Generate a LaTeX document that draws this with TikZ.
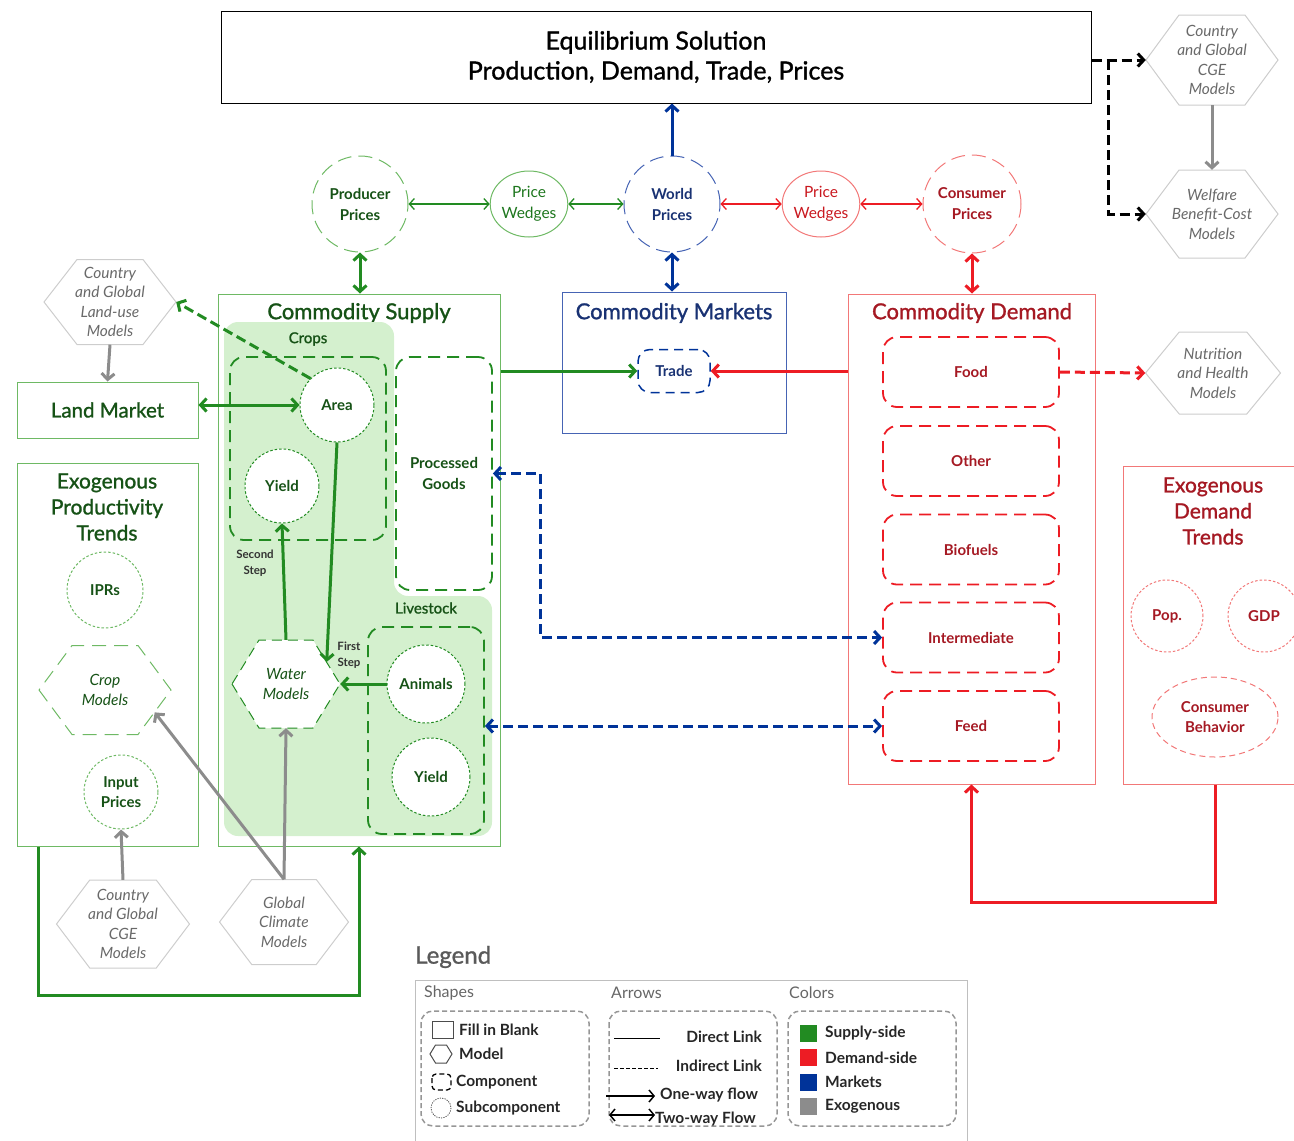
\documentclass[tikz,border=0pt]{standalone}
\usepackage{fontspec}
\setmainfont{Lato}
\newfontfamily\semifont[FakeBold=1.2]{Lato}
\usetikzlibrary{arrows.meta,calc,positioning,shapes.geometric}

\definecolor{supgreen}{RGB}{34,139,34}
\definecolor{supdark}{RGB}{22,82,22}
\definecolor{supline}{RGB}{110,185,100}
\definecolor{supfill}{RGB}{212,240,206}
\definecolor{demred}{RGB}{237,28,36}
\definecolor{demdark}{RGB}{165,25,35}
\definecolor{demline}{RGB}{242,120,120}
\definecolor{mktblue}{RGB}{0,51,153}
\definecolor{mktdark}{RGB}{25,50,115}
\definecolor{mktline}{RGB}{70,100,180}
\definecolor{exogray}{RGB}{140,140,140}
\definecolor{hexline}{RGB}{205,205,205}
\definecolor{hextext}{RGB}{105,105,105}
\definecolor{legline}{RGB}{150,150,150}

\tikzset{
  bigbox/.style={draw, rectangle, line width=1pt},
  title/.style={font=\semifont\fontsize{22}{25}\selectfont},
  comp/.style={draw, rectangle, rounded corners=14pt, line width=1.8pt, dash pattern=on 12pt off 7pt},
  complabel/.style={font=\bfseries\fontsize{15}{21}\selectfont},
  subcomp/.style={draw, circle, fill=white, line width=1pt, dash pattern=on 2.5pt off 2pt,
    font=\bfseries\fontsize{15}{20}\selectfont},
  pricecirc/.style={draw, circle, line width=1pt, dash pattern=on 14pt off 7pt,
    font=\bfseries\fontsize{15}{21}\selectfont},
  wedge/.style={draw, ellipse, line width=1pt, font=\fontsize{15.5}{21}\selectfont},
  hexlabel/.style={rectangle, font=\itshape\fontsize{15.5}{19.5}\selectfont},
  flow/.style={line width=3pt},
  link/.style={line width=3pt, dash pattern=on 10pt off 5pt},
  thinflow/.style={line width=1.3pt, >={Straight Barb[length=5pt,width=11pt]}},
  steplabel/.style={font=\bfseries\fontsize{11.5}{16}\selectfont, text=black!80},
  legtext/.style={anchor=west, font=\bfseries\fontsize{15.5}{16}\selectfont, text=black!85},
  leghead/.style={anchor=west, font=\fontsize{16}{16}\selectfont, text=black!60},
  legbox/.style={draw=legline, rounded corners=12pt, line width=1.5pt, dash pattern=on 5pt off 3pt}
}

% hexagon: name, centre, width, height, outline style, text colour, text
\newcommand{\hexmodel}[7]{%
  \draw[#5] #2 ++(-#3/2,0) -- ++(#3/4,#4/2) -- ++(#3/2,0) -- ++(#3/4,-#4/2)
    -- ++(-#3/4,-#4/2) -- ++(-#3/2,0) -- cycle;
  \node[hexlabel, text=#6, minimum width=#3pt, minimum height=#4pt] (#1) at #2 {#7};}

\begin{document}
\begin{tikzpicture}[x=1pt,y=-1pt, every node/.style={inner sep=0pt, align=center},
  >={Straight Barb[length=6pt,width=13pt]}]
\useasboundingbox (0,0) rectangle (1294,1141);

% top
\node[bigbox, minimum width=870pt, minimum height=92pt,
  font=\semifont\fontsize{25}{30}\selectfont] (eq) at (656,57)
  {Equilibrium Solution\\Production, Demand, Trade, Prices};

\node[pricecirc, draw=supline, text=supdark, minimum size=96pt] (prodp) at (360,204) {Producer\\Prices};
\node[wedge, draw=supline, text=supgreen!85!black, minimum width=76pt, minimum height=66pt] (wedgeg) at (529,204) {Price\\Wedges};
\node[pricecirc, draw=mktline, text=mktdark, minimum size=96pt] (world) at (672,204) {World\\Prices};
\node[wedge, draw=demline, text=demred!85!black, minimum width=76pt, minimum height=66pt] (wedger) at (821,204) {Price\\Wedges};
\node[pricecirc, draw=demline, text=demdark, minimum size=98pt] (consp) at (972,204) {Consumer\\Prices};

\hexmodel{cget}{(1212,60)}{132}{90}{hexline, line width=1pt}{hextext}{Country\\and Global\\CGE\\Models}
\hexmodel{welfare}{(1212,214)}{132}{88}{hexline, line width=1pt}{hextext}{Welfare\\Benefit-Cost\\Models}

% supply side
\node[bigbox, draw=supline, minimum width=282pt, minimum height=552pt] (supply) at (359,570) {};
\node[title, text=supdark] (suptitle) at (359,313) {Commodity Supply};
\fill[supfill, rounded corners=14pt] (224,322) -- (394,322) -- (394,596) -- (492,596)
  -- (492,836) -- (224,836) -- cycle;
\node[font=\semifont\fontsize{15}{18}\selectfont, text=supdark] (cropslbl) at (308,339) {Crops};
\node[font=\semifont\fontsize{15}{18}\selectfont, text=supdark] (livelbl) at (426,608) {Livestock};
\node[comp, draw=supgreen, minimum width=156pt, minimum height=183pt] (crops) at (308,448.5) {};
\node[comp, draw=supgreen, fill=white, complabel, text=supdark, minimum width=96pt, minimum height=233pt] (procg) at (444,473.5) {Processed\\Goods};
\node[comp, draw=supgreen, minimum width=116pt, minimum height=207pt] (livestock) at (426,730.5) {};
\node[subcomp, draw=supgreen, text=supdark, minimum size=74pt] (area) at (337,405) {Area};
\node[subcomp, draw=supgreen, text=supdark, minimum size=74pt] (cyield) at (282,486) {Yield};
\node[subcomp, draw=supgreen, text=supdark, minimum size=78pt] (animals) at (426,684) {Animals};
\node[subcomp, draw=supgreen, text=supdark, minimum size=78pt] (lyield) at (431,777) {Yield};
\hexmodel{water}{(286,684)}{108}{88}{supgreen, fill=white, line width=1pt, dash pattern=on 10pt off 6pt}{supdark}{Water\\Models}
\node[steplabel] (second) at (255,563) {Second\\Step};
\node[steplabel] (first) at (349,655) {First\\Step};

\draw[flow, supgreen, ->] (area.south) -- ($([xshift=-27pt]water.north east)!0.5!(water.east)$);
\draw[flow, supgreen, ->] (water.north) -- (cyield.south);
\draw[flow, supgreen, ->] (animals.west) -- (water.east);

% land
\hexmodel{landuse}{(110,302)}{132}{85}{hexline, line width=1pt}{hextext}{Country\\and Global\\Land-use\\Models}
\node[bigbox, draw=supline, minimum width=181pt, minimum height=56pt,
  font=\semifont\fontsize{20.5}{24}\selectfont, text=supdark] (landmkt) at (107.5,410) {Land Market};
\draw[flow, exogray, ->] (landuse.south) -- (landmkt.north);
\draw[flow, supgreen, <->] (area.west -| landmkt.east) -- (area.west);
\draw[link, supgreen, ->] (area.north west) -- (landuse.east);

% exogenous productivity
\node[bigbox, draw=supline, minimum width=181pt, minimum height=383pt] (prodtrend) at (107.5,654.5) {};
\node[title, text=supdark, font=\semifont\fontsize{21}{26}\selectfont] (prodtitle) at (107,507) {Exogenous\\Productivity\\Trends};
\node[subcomp, draw=supline, text=supdark, minimum size=76pt] (iprs) at (105,590) {IPRs};
\hexmodel{cropm}{(105,690)}{132}{89}{supline, line width=1pt, dash pattern=on 14pt off 8pt}{supdark}{Crop\\Models}
\node[subcomp, draw=supline, text=supdark, minimum size=74pt] (input) at (121,792) {Input\\Prices};

\hexmodel{cgeb}{(123,924)}{133}{88}{hexline, line width=1pt}{hextext}{Country\\and Global\\CGE\\Models}
\hexmodel{gcm}{(284,922)}{129}{85}{hexline, line width=1pt}{hextext}{Global\\Climate\\Models}
\draw[flow, exogray, ->] (cgeb.north) -- (input.south);
\draw[flow, exogray, ->] (gcm.north) -- (water.south);
\draw[flow, exogray, ->] (gcm.north) -- ($(cropm.east)!0.5!([xshift=-33pt]cropm.south east)$);

\coordinate (loopS) at (38,995);
\draw[flow, supgreen, ->] (prodtrend.south -| loopS) -- (loopS) -| (supply.south);

% markets
\node[bigbox, draw=mktline, minimum width=224pt, minimum height=141pt] (markets) at (674,362.5) {};
\node[title, text=mktdark] (mkttitle) at (674,313) {Commodity Markets};
\node[comp, draw=mktblue, line width=1.5pt, dash pattern=on 9pt off 6pt, rounded corners=12pt,
  complabel, text=mktdark, minimum width=72pt, minimum height=43pt] (trade) at (674,371) {Trade};

% demand side
\node[bigbox, draw=demline, minimum width=247pt, minimum height=490pt] (demand) at (971.5,539) {};
\node[title, text=demdark] (demtitle) at (972,313) {Commodity Demand};
\node[comp, draw=demred, complabel, text=demdark, minimum width=176pt, minimum height=70pt] (food) at (971,372) {Food};
\node[comp, draw=demred, complabel, text=demdark, minimum width=176pt, minimum height=70pt] (other) at (971,461) {Other};
\node[comp, draw=demred, complabel, text=demdark, minimum width=176pt, minimum height=70pt] (biof) at (971,549.5) {Biofuels};
\node[comp, draw=demred, complabel, text=demdark, minimum width=176pt, minimum height=70pt] (inter) at (971,637.5) {Intermediate};
\node[comp, draw=demred, complabel, text=demdark, minimum width=176pt, minimum height=70pt] (feed) at (971,726) {Feed};

\hexmodel{nutri}{(1213,373)}{135}{82}{hexline, line width=1pt}{hextext}{Nutrition\\and Health\\Models}

\node[bigbox, draw=demline, minimum width=177pt, minimum height=318pt] (demtrend) at (1211.5,625) {};
\node[title, text=demdark, font=\semifont\fontsize{21}{26}\selectfont] (demtrtitle) at (1213,511) {Exogenous\\Demand\\Trends};
\node[subcomp, draw=demline, text=demdark, minimum size=72pt] (pop) at (1167,616) {Pop.};
\node[subcomp, draw=demline, text=demdark, minimum size=72pt] (gdp) at (1264,616) {GDP};
\node[subcomp, ellipse, draw=demline, dash pattern=on 6pt off 4pt, text=demdark,
  minimum width=126pt, minimum height=80pt] (behav) at (1215,717) {Consumer\\Behavior};

% price links
\draw[thinflow, supgreen, <->] (prodp.east) -- (wedgeg.west);
\draw[thinflow, supgreen, <->] (wedgeg.east) -- (world.west);
\draw[thinflow, demred, <->] (world.east) -- (wedger.west);
\draw[thinflow, demred, <->] (wedger.east) -- (consp.west);
\draw[flow, mktblue, ->] (world.north) -- (world.north |- eq.south);
\draw[flow, supgreen, <->] (prodp.south) -- (prodp.south |- supply.north);
\draw[flow, mktblue, <->] (world.south) -- (world.south |- markets.north);
\draw[flow, demred, <->] (consp.south) -- (consp.south |- demand.north);

% trade links
\draw[flow, supgreen, ->] (supply.east |- trade.west) -- (trade.west);
\draw[flow, demred, ->] (demand.west |- trade.east) -- (trade.east);
\draw[link, mktblue, <->] (procg.east) -- ++(48,0) |- (inter.west);
\draw[link, mktblue, <->] (feed.west -| livestock.east) -- (feed.west);
\draw[link, demred, ->] (food.east) -- (nutri.west);

\coordinate (loopD) at (1215,902);
\draw[flow, demred, ->] (demtrend.south -| loopD) -- (loopD) -| (demand.south);

% outside models
\draw[link, black, ->] (eq.east |- cget.west) -- (cget.west);
\draw[link, black, ->] ([xshift=17pt]eq.east |- cget.west) |- (welfare.west);
\draw[flow, exogray, ->] (cget.south) -- (welfare.north);

% legend
\node[anchor=west, font=\semifont\fontsize{24}{28}\selectfont, text=black!65] (legend) at (415,957) {Legend};
\draw[draw=black!25, line width=1pt] (415,1145) -- (415,980) -- (967,980) -- (967,1145);
\node[leghead] (shapes) at (424,993) {Shapes};
\node[leghead] (arrows) at (611,993) {Arrows};
\node[leghead] (colors) at (789,993) {Colors};
\draw[legbox] (421,1011) rectangle (589,1126);
\draw[legbox] (609,1011) rectangle (777,1126);
\draw[legbox] (788,1011) rectangle (956,1126);

\draw[black!70, line width=1pt] (432,1021) rectangle (453,1038);
\node[legtext] (lfill) at (459,1030) {Fill in Blank};
\draw[black!70, line width=1pt] (430,1054) -- (435.5,1045) -- (446.5,1045) -- (452,1054)
  -- (446.5,1063) -- (435.5,1063) -- cycle;
\node[legtext] (lmodel) at (459,1054) {Model};
\draw[black, line width=1.3pt, rounded corners=4pt, dash pattern=on 5pt off 3pt] (432,1074) rectangle (451,1090);
\node[legtext] (lcomp) at (456,1082) {Component};
\draw[black!70, line width=0.8pt, dash pattern=on 1.2pt off 1.2pt] (441,1108) circle (10);
\node[legtext] (lsub) at (456,1108) {Subcomponent};

\draw[black, line width=1pt] (614,1038) -- (660,1038);
\node[legtext, anchor=east] (ldirect) at (762,1037) {Direct Link};
\draw[black, line width=1pt, dash pattern=on 4pt off 2pt] (614,1068) -- (658,1068);
\node[legtext, anchor=east] (lindirect) at (762,1066) {Indirect Link};
\draw[black, line width=1.5pt, ->, >={Straight Barb[length=5pt,width=12pt]}] (606,1096) -- (655,1096);
\node[legtext] (lone) at (660,1095) {One-way flow};
\draw[black, line width=1.5pt, <->, >={Straight Barb[length=5pt,width=12pt]}] (609,1115) -- (655,1115);
\node[legtext] (ltwo) at (655,1119) {Two-way Flow};

\foreach \col/\txt [count=\i] in {supgreen/Supply-side, demred/Demand-side, mktblue/Markets, exogray/Exogenous}{
  \fill[\col] (800,1000+24.5*\i) rectangle ++(17,17);
  \node[legtext] (lcol\i) at (825,1008.5+24.5*\i) {\txt};
}
\end{tikzpicture}
\end{document}
